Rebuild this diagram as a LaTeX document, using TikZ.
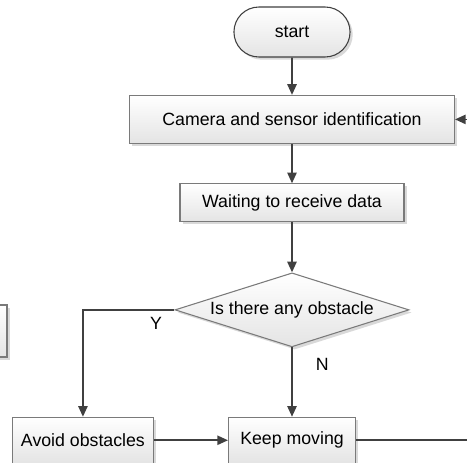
\documentclass[tikz,border=0pt]{standalone}
\usepackage{fontspec}
\setmainfont{Liberation Sans}
\usetikzlibrary{arrows.meta,positioning,shapes.geometric,shapes.misc,shadows}
\definecolor{linegray}{HTML}{404040}
\definecolor{boxgray}{HTML}{7A7A7A}
\definecolor{fillgray}{HTML}{E4E4E4}
\tikzset{
    %Define standard arrow tip
    >={Triangle[length=8pt,width=7pt]},
    %Define style for boxes
    proc/.style={
           rectangle,
           draw=boxgray, line width=0.8pt,
           top color=white, bottom color=fillgray,
           drop shadow={shadow xshift=2pt, shadow yshift=-2pt, fill=black, opacity=0.15},
           font=\fontsize{13.3}{16}\selectfont,
           text centered},
    term/.style={
           proc,
           rounded rectangle,
           draw=linegray,
           minimum width=93.75pt,
           minimum height=37.5pt},
    decision/.style={
           proc,
           diamond,
           aspect=3.16,
           inner sep=0pt,
           minimum width=175.5pt,
           minimum height=55.5pt},
    % Define arrow style
    pil/.style={
           ->,
           draw=linegray,
           line width=1.2pt},
    lbl/.style={
           font=\fontsize{13.3}{16}\selectfont}
}
\begin{document}
\begin{tikzpicture}[x=0.75pt,y=-0.75pt]
\useasboundingbox (0,0) rectangle (467,463);
\clip (0,0) rectangle (467,463);

 %nodes
\node[term] (start) at (292,32) {start};
\node[proc, below=28pt of start, minimum width=243.75pt, minimum height=36pt] (cam) {Camera and sensor identification};
\node[proc, below=29.5pt of cam, minimum width=168pt, minimum height=28.5pt] (wait) {Waiting to receive data};
\node[decision, below=37.5pt of wait] (obst) {Is there any obstacle};
\node[proc, below=52pt of obst, minimum width=95.25pt, minimum height=34.5pt] (keep) {Keep moving};
\node[proc, left=55.5pt of keep, minimum width=105.75pt, minimum height=34.5pt] (avoid) {Avoid obstacles};
\node[proc, minimum width=75pt, minimum height=39pt] (side) at (-43,331) {};
\coordinate (rim) at (480,0);

 %connectors
\draw[pil] (start) -- (cam);
\draw[pil] (cam) -- (wait);
\draw[pil] (wait) -- (obst);
\draw[pil] (obst) -- node[lbl, right=14pt, pos=0.25] {N} (keep);
\draw[pil] (obst.west) -| node[lbl, below=2pt, pos=0.1] {Y} (avoid.north);
\draw[pil] (avoid) -- (keep);
\draw[pil, -] (keep) -- (keep -| rim);
\draw[pil] (cam -| rim) -- (cam);
\end{tikzpicture}
\end{document}
